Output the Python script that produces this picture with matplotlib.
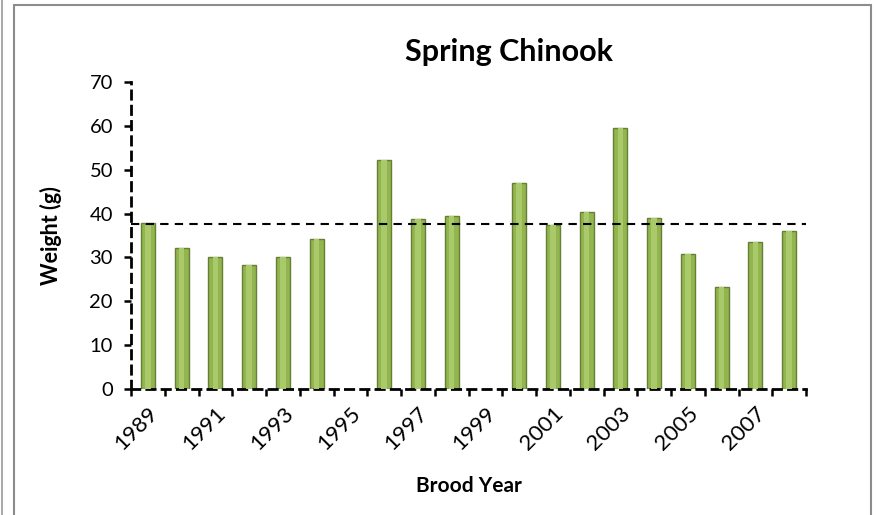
import numpy as np
import matplotlib.pyplot as plt
from matplotlib.patches import Rectangle
from matplotlib.lines import Line2D

years = list(range(1989, 2009))
weights = [37.8, 32.2, 30.2, 28.3, 30.0, 34.3, np.nan, 52.2, 38.7, 39.5,
           np.nan, 46.9, 37.5, 40.3, 59.6, 39.1, 30.8, 23.3, 33.5, 36.0]
mean_weight = 37.6
tick_years = [str(y) if (y - 1989) % 2 == 0 else "" for y in years]

plt.rcParams['font.family'] = ['Lato', 'DejaVu Sans']

fig = plt.figure(figsize=(8.76, 5.15), dpi=100)
ax = fig.add_axes([131/876, 1 - 389/515, 675/876, 307/515])

x = np.arange(len(years))
ax.bar(x, weights, width=0.42, color="#93b54f", edgecolor="#667f35", linewidth=1.0, zorder=2)
# lighter stripe to mimic the Excel gradient
ax.bar(x, weights, width=0.16, color="#a9c96a", linewidth=0, zorder=3)

ax.axhline(mean_weight, color="black", linestyle=(0, (4, 3)), linewidth=1.5, zorder=4)

ax.set_xlim(-0.5, len(years) - 0.5)
ax.set_ylim(0, 70)
ax.set_yticks(range(0, 71, 10))
ax.set_xticks(x)
ax.set_xticklabels(tick_years, rotation=45, ha="right", va="top",
                   rotation_mode="anchor", fontsize=16)
ax.set_xticks(np.arange(-0.5, len(years), 1), minor=True)
ax.tick_params(axis="x", which="major", length=0, pad=10)
ax.tick_params(axis="x", which="minor", length=5, width=1.8, direction="out")
ax.tick_params(axis="y", length=5, width=1.8, labelsize=14.5, pad=8)

for side in ["top", "right"]:
    ax.spines[side].set_visible(False)
for side in ["left", "bottom"]:
    ax.spines[side].set_linestyle((0, (3, 2.5)))
    ax.spines[side].set_linewidth(2)

ax.set_ylabel("Weight (g)", fontsize=15.5, fontweight="bold", labelpad=20)
ax.set_xlabel("Brood Year", fontsize=15, fontweight="bold", labelpad=16)

fig.text(509/876, 1 - 52/515, "Spring Chinook", fontsize=22, fontweight="bold",
         ha="center", va="center")

# chart frame
fig.patches.append(Rectangle((14/876, -0.05), (871 - 14)/876, 1.05 - 5/515,
                             transform=fig.transFigure, fill=False,
                             edgecolor="#8c8c8c", linewidth=1.5))
fig.lines.append(Line2D([2/876, 2/876], [0, 1], transform=fig.transFigure,
                        color="#9a9a9a", linewidth=1.2))

fig.savefig("out.png", dpi=100)
